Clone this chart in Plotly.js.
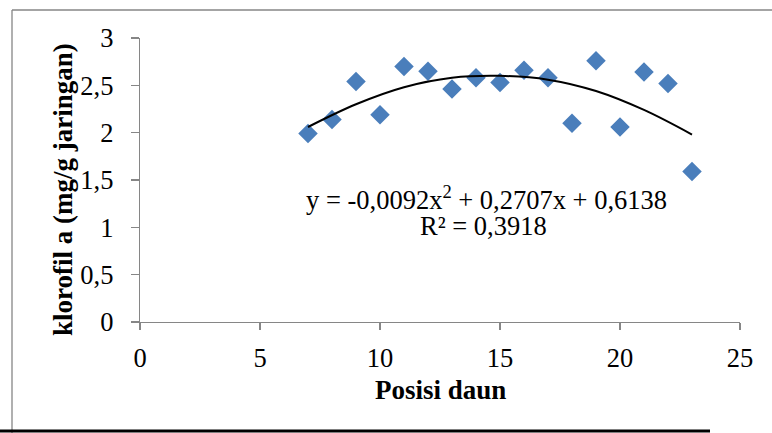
<!DOCTYPE html>
<html>
<head>
<meta charset="utf-8">
<script src="https://cdn.plot.ly/plotly-3.0.1.min.js"></script>
<style>html,body{margin:0;padding:0;background:#fff;}#chart{width:772px;height:433px;}</style>
</head>
<body>
<div id="chart"></div>
<script>
// Data
const posisiDaun = [7, 8, 9, 10, 11, 12, 13, 14, 15, 16, 17, 18, 19, 20, 21, 22, 23];
const klorofilA  = [1.99, 2.14, 2.54, 2.19, 2.70, 2.65, 2.46, 2.58, 2.53, 2.66, 2.58, 2.10, 2.76, 2.06, 2.64, 2.52, 1.59];

// Polynomial trendline
const trendX = [7, 9, 11, 13, 15, 17, 19, 21, 23];
const trendY = [2.06, 2.30, 2.48, 2.58, 2.60, 2.56, 2.44, 2.24, 1.98];

const xTickVals = [0, 5, 10, 15, 20, 25];
const yTickVals = [0, 0.5, 1, 1.5, 2, 2.5, 3];

const eqLine1 = 'y = -0,0092x<sup>2</sup> + 0,2707x + 0,6138';
const eqLine2 = 'R² = 0,3918';
const xTitle = 'Posisi daun';
const yTitle = 'klorofil a (mg/g jaringan)';

const axisGray = '#868686';
const serif = 'Liberation Serif, Times New Roman, serif';

const traces = [
  {
    x: posisiDaun, y: klorofilA, type: 'scatter', mode: 'markers',
    marker: {symbol: 'diamond', size: 15, color: '#4A7EBB', line: {width: 0}},
    hoverinfo: 'x+y', showlegend: false
  },
  {
    x: trendX, y: trendY, type: 'scatter', mode: 'lines',
    line: {color: '#000000', width: 2, shape: 'spline', smoothing: 1},
    hoverinfo: 'skip', showlegend: false
  }
];

const layout = {
  width: 772, height: 433,
  margin: {l: 140, r: 32, t: 38, b: 111, pad: 0},
  paper_bgcolor: '#ffffff', plot_bgcolor: '#ffffff',
  separators: ', ',
  font: {family: serif, size: 26.5, color: '#000000'},
  showlegend: false,
  xaxis: {
    range: [0, 25], tickvals: xTickVals, ticks: 'outside', ticklen: 7, tickwidth: 1.3,
    tickcolor: axisGray, showline: true, linecolor: axisGray, linewidth: 1.3,
    showgrid: false, zeroline: false, fixedrange: true, ticklabelstandoff: 5,
    tickfont: {family: serif, size: 26.5, color: '#000'}
  },
  yaxis: {
    range: [0, 3], tickvals: yTickVals, ticks: 'outside', ticklen: 8, tickwidth: 1.3,
    tickcolor: axisGray, showline: true, linecolor: axisGray, linewidth: 1.3,
    showgrid: false, zeroline: false, fixedrange: true, ticklabelstandoff: 12,
    tickformat: '.1~f',
    tickfont: {family: serif, size: 26.5, color: '#000'}
  },
  annotations: [
    {text: '<b>' + xTitle + '</b>', xref: 'paper', yref: 'paper', x: 0.5, y: -0.2394,
     xanchor: 'center', yanchor: 'middle', showarrow: false, font: {family: serif, size: 27, color: '#000'}},
    {text: '<b>' + yTitle + '</b>', xref: 'paper', yref: 'paper', x: -0.1283, y: 0.4648, textangle: -90,
     xanchor: 'center', yanchor: 'middle', showarrow: false, font: {family: serif, size: 27, color: '#000'}},
    {text: eqLine1, xref: 'paper', yref: 'paper', x: 0.5767, y: 0.4349,
     xanchor: 'center', yanchor: 'middle', showarrow: false, font: {family: serif, size: 26.5, color: '#000'}},
    {text: eqLine2, xref: 'paper', yref: 'paper', x: 0.5733, y: 0.338,
     xanchor: 'center', yanchor: 'middle', showarrow: false, font: {family: serif, size: 26.5, color: '#000'}}
  ],
  shapes: [
    {type: 'line', xref: 'paper', yref: 'paper', x0: -0.21333, x1: -0.21333, y0: 1.09859, y1: -0.40,
     line: {color: axisGray, width: 1.3}},
    {type: 'line', xref: 'paper', yref: 'paper', x0: -0.21333, x1: 1.06, y0: 1.09859, y1: 1.09859,
     line: {color: axisGray, width: 1.3}},
    {type: 'line', xref: 'paper', yref: 'paper', x0: -0.24, x1: 0.95, y0: -0.3838, y1: -0.3838,
     line: {color: '#000000', width: 3}}
  ]
};

Plotly.newPlot('chart', traces, layout, {displayModeBar: false, staticPlot: true});
</script>
</body>
</html>
